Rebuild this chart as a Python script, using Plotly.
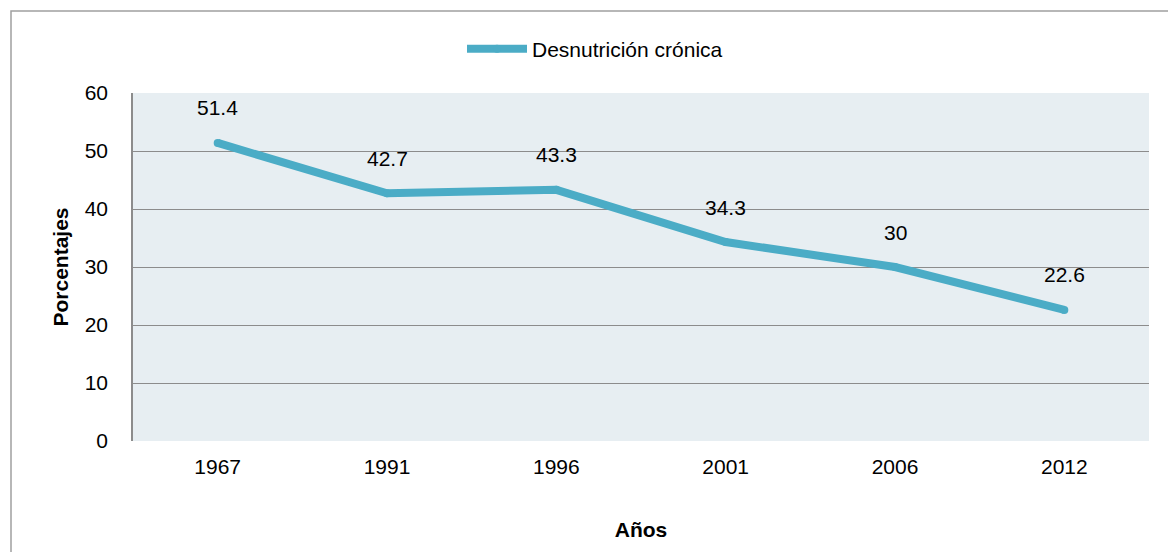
import plotly.graph_objects as go

years = ["1967", "1991", "1996", "2001", "2006", "2012"]
values = [51.4, 42.7, 43.3, 34.3, 30, 22.6]
labels = ["51.4", "42.7", "43.3", "34.3", "30", "22.6"]
series_name = "Desnutrición crónica"
y_ticks = [0, 10, 20, 30, 40, 50, 60]

FONT = "Liberation Sans Narrow, Arial Narrow, Liberation Sans, Arial, sans-serif"
LINE_COLOR = "#4BACC6"
GRID = "#8C8C8C"

W, H = 1168, 552
L, R, T, B = 133, 19, 93, 111
pw, ph = W - L - R, H - T - B

fig = go.Figure()
fig.add_trace(go.Scatter(
    x=years, y=values, mode="lines+markers", name=series_name,
    line=dict(color=LINE_COLOR, width=8),
    marker=dict(color=LINE_COLOR, size=8, line=dict(width=0)),
    showlegend=True, hoverinfo="skip",
))

for i, (yv, lab) in enumerate(zip(values, labels)):
    fig.add_annotation(x=i, y=yv, xref="x", yref="y", text=lab, showarrow=False,
                       yanchor="middle", yshift=35,
                       font=dict(family=FONT, size=21, color="#000000"))

# outer frame
fig.add_shape(type="rect", xref="paper", yref="paper",
              x0=(11 - L) / pw, x1=(W + 20 - L) / pw,
              y0=-(H + 20 - T - ph) / ph, y1=1 + (T - 11) / ph,
              line=dict(color="#A0A0A0", width=1.5), fillcolor="rgba(0,0,0,0)",
              layer="below")

fig.update_layout(
    width=W, height=H,
    margin=dict(l=L, r=R, t=T, b=B, pad=0),
    paper_bgcolor="#FFFFFF",
    plot_bgcolor="#E7EEF2",
    font=dict(family=FONT, size=21, color="#000000"),
    showlegend=True,
    legend=dict(orientation="h", x=(462 - L) / pw, xanchor="left",
                y=1 + (93 - 49) / ph, yanchor="middle",
                font=dict(family=FONT, size=21, color="#000000"),
                itemwidth=60, bgcolor="rgba(0,0,0,0)"),
    xaxis=dict(
        type="category", categoryorder="array", categoryarray=years,
        range=[-0.5, len(years) - 0.5],
        showgrid=False, zeroline=False, showline=False,
        ticks="", ticklabelstandoff=11,
        title=dict(text="<b>Años</b>", font=dict(family=FONT, size=21), standoff=45),
    ),
    yaxis=dict(
        range=[0, 60], tickvals=y_ticks,
        showgrid=True, gridcolor=GRID, gridwidth=1.3,
        zeroline=False, showline=True, linecolor=GRID, linewidth=1.5,
        ticks="", ticklabelstandoff=19,
        title=dict(text="<b>Porcentajes</b>", font=dict(family=FONT, size=21), standoff=10),
    ),
)

fig.write_html("out.html", config={"displayModeBar": False},
               post_script="document.body.style.margin='0';")
